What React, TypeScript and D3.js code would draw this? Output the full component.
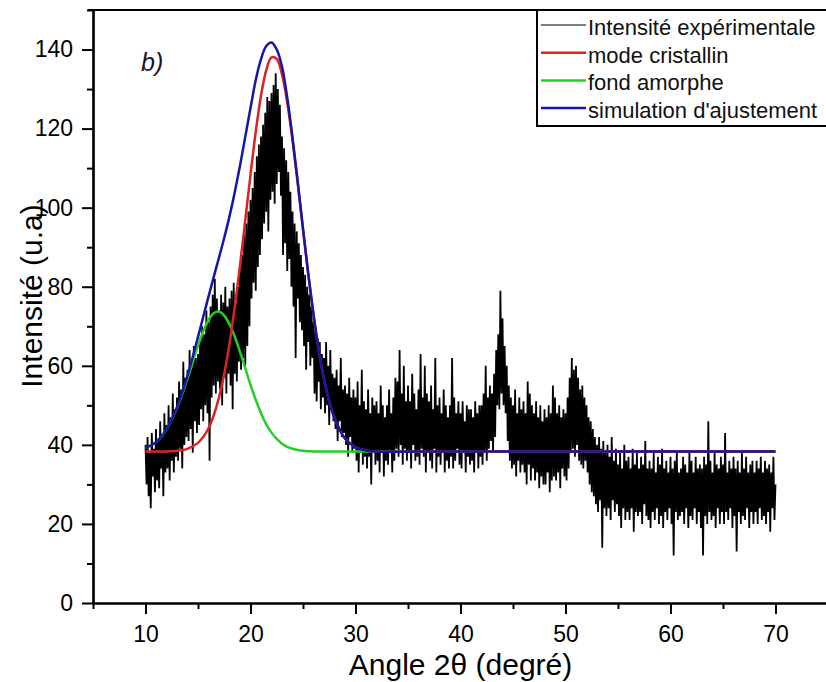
import React, { useEffect, useRef } from 'react';
import * as d3 from 'd3';

// experimental scan, one reading every 0.1 deg from 10 to 70 deg (10 values per row = 1 deg)
const expStart = 10;
const expStep = 0.1;
const expIntensity = [
  40, 30, 42, 27, 38, 24, 43, 32, 39, 28,
  44, 31, 41, 29, 46, 34, 42, 27, 48, 33,
  45, 34, 50, 31, 47, 36, 53, 33, 49, 37,
  52, 36, 56, 39, 54, 34, 61, 40, 57, 42,
  59, 41, 64, 44, 60, 38, 65, 46, 62, 43,
  63, 45, 67, 49, 70, 46, 68, 50, 74, 48,
  71, 36, 75, 52, 78, 55, 82, 53, 77, 56,
  74, 54, 78, 50, 76, 57, 80, 53, 75, 58,
  77, 55, 79, 49, 81, 58, 76, 56, 80, 61,
  85, 59, 88, 62, 93, 60, 96, 65, 99, 70,
  102, 77, 105, 81, 109, 79, 113, 85, 116, 88,
  118, 92, 121, 96, 124, 99, 128, 94, 127, 102,
  129, 104, 131, 101, 134, 106, 130, 109, 126, 103,
  118, 88, 115, 91, 112, 84, 109, 87, 104, 80,
  99, 75, 96, 62, 94, 77, 91, 71, 88, 69,
  85, 65, 83, 59, 80, 66, 78, 60, 75, 62,
  71, 53, 69, 51, 67, 56, 66, 49, 63, 52,
  62, 48, 66, 50, 60, 45, 64, 49, 58, 46,
  57, 44, 59, 41, 55, 46, 62, 42, 54, 43,
  55, 40, 53, 37, 57, 42, 52, 38, 54, 39,
  52, 36, 56, 33, 50, 38, 59, 35, 51, 37,
  49, 34, 54, 37, 48, 30, 52, 38, 50, 35,
  51, 36, 48, 33, 55, 38, 50, 32, 47, 36,
  50, 35, 54, 38, 48, 33, 52, 36, 57, 39,
  56, 37, 64, 40, 53, 35, 60, 39, 51, 36,
  55, 38, 51, 34, 58, 40, 53, 36, 49, 37,
  54, 35, 63, 39, 52, 37, 60, 33, 53, 38,
  51, 36, 55, 34, 49, 39, 62, 33, 50, 37,
  52, 35, 48, 38, 54, 33, 50, 36, 47, 34,
  50, 37, 62, 34, 52, 36, 48, 39, 51, 35,
  48, 34, 51, 38, 46, 33, 50, 37, 49, 35,
  49, 36, 47, 33, 51, 38, 48, 34, 50, 37,
  50, 35, 53, 38, 60, 36, 52, 39, 55, 41,
  53, 38, 58, 42, 64, 50, 68, 49, 79, 53,
  72, 50, 65, 48, 60, 41, 55, 36, 52, 34,
  50, 35, 54, 32, 48, 36, 52, 33, 49, 35,
  51, 33, 48, 30, 56, 35, 53, 31, 50, 34,
  48, 31, 51, 33, 47, 29, 50, 32, 46, 30,
  49, 30, 47, 33, 50, 28, 48, 31, 55, 32,
  52, 31, 48, 33, 50, 29, 47, 34, 49, 32,
  48, 31, 52, 34, 57, 38, 62, 39, 59, 37,
  60, 40, 57, 36, 54, 35, 55, 34, 52, 36,
  50, 33, 47, 30, 46, 28, 44, 27, 42, 25,
  40, 23, 42, 26, 39, 14, 41, 24, 38, 22,
  40, 24, 37, 21, 42, 26, 36, 23, 39, 25,
  35, 22, 38, 19, 34, 24, 40, 21, 36, 23,
  37, 21, 34, 24, 39, 18, 35, 23, 38, 22,
  34, 23, 37, 20, 35, 25, 41, 22, 34, 21,
  36, 19, 34, 23, 38, 21, 33, 24, 37, 20,
  35, 22, 39, 19, 34, 23, 36, 21, 33, 24,
  37, 20, 34, 12, 36, 23, 38, 21, 33, 22,
  34, 23, 37, 20, 35, 24, 33, 19, 38, 22,
  36, 21, 33, 24, 37, 20, 34, 23, 35, 19,
  34, 12, 37, 22, 35, 20, 46, 23, 36, 21,
  33, 22, 38, 19, 35, 24, 34, 20, 37, 23,
  35, 20, 43, 23, 33, 21, 36, 24, 34, 19,
  37, 22, 34, 13, 36, 23, 33, 20, 38, 22,
  34, 21, 37, 24, 33, 19, 35, 23, 36, 20,
  33, 23, 36, 20, 34, 24, 37, 21, 33, 22,
  36, 20, 34, 23, 35, 18, 33, 24, 37, 21,
  30,
];

const fitAngles = [10, 11, 12, 13, 14, 15, 15.5, 16, 16.5, 17, 17.5, 18, 18.5, 19, 19.5, 20, 20.5, 21, 21.5, 22,
  22.5, 23, 23.5, 24, 24.5, 25, 25.5, 26, 26.5, 27, 27.5, 28, 29, 30, 31, 32, 35, 40, 50, 60, 70];
const amorphousFit = [39.2, 40.7, 43.9, 49.3, 56.8, 65.1, 68.7, 71.6, 73.3, 73.7, 72.7, 70.5, 67.4, 63.5, 59.4, 55.2,
  51.4, 48.0, 45.2, 43.1, 41.5, 40.3, 39.5, 39.0, 38.7, 38.5, 38.4, 38.35, 38.3, 38.3, 38.3, 38.3, 38.3, 38.3, 38.3,
  38.3, 38.3, 38.3, 38.3, 38.3, 38.3];
const crystallineFit = [38.3, 38.3, 38.3, 38.5, 39.0, 40.5, 42.0, 44.2, 47.5, 52.0, 58.0, 65.6, 74.8, 85.4, 96.8, 108.3,
  119.2, 128.3, 134.8, 138.0, 137.6, 133.7, 126.6, 117.1, 106.1, 94.5, 83.2, 72.9, 64.0, 56.7, 51.0, 46.8, 41.6, 39.4,
  38.6, 38.3, 38.3, 38.3, 38.3, 38.3, 38.3];
const simulationFit = [39.2, 40.7, 43.9, 49.5, 57.5, 67.3, 72.4, 77.5, 82.5, 87.4, 92.4, 97.8, 103.9, 110.6, 117.9, 125.2,
  132.3, 137.6, 140.9, 141.8, 140.0, 135.7, 127.8, 117.8, 106.5, 94.7, 83.3, 73.0, 64.0, 56.7, 51.0, 46.8, 41.6, 39.4,
  38.6, 38.3, 38.3, 38.3, 38.3, 38.3, 38.3];

const xMajor = [10, 20, 30, 40, 50, 60, 70];
const xMinor = [5, 15, 25, 35, 45, 55, 65, 75];
const yMajor = [0, 20, 40, 60, 80, 100, 120, 140];
const yMinor = [10, 30, 50, 70, 90, 110, 130, 150];

const legendLabels = ['Intensité expérimentale', 'mode cristallin', 'fond amorphe', "simulation d'ajustement"];

const BLACK = '#000000';
const RED = '#dd2222';
const GREEN = '#22d022';
const BLUE = '#1616a6';
const FONT = '"Liberation Sans", Arial, Helvetica, sans-serif';

const App = () => {
  const ref = useRef<SVGSVGElement>(null);

  useEffect(() => {
    const svg = d3.select(ref.current);
    svg.selectAll('*').remove();

    const x = d3.scaleLinear().domain([5, 75]).range([93, 828]);
    const y = d3.scaleLinear().domain([0, 150]).range([603, 10]);

    // experimental trace
    const expLine = d3.line<number>()
      .x((d, i) => x(expStart + i * expStep))
      .y(d => y(d));
    svg.append('path')
      .datum(expIntensity)
      .attr('fill', 'none')
      .attr('stroke', BLACK)
      .attr('stroke-width', 1.8)
      .attr('stroke-linejoin', 'bevel')
      .attr('d', expLine);

    // fits
    const fitLine = d3.line<number>()
      .x((d, i) => x(fitAngles[i]))
      .y(d => y(d))
      .curve(d3.curveCatmullRom.alpha(0.5));
    const fits: [number[], string][] = [[amorphousFit, GREEN], [crystallineFit, RED], [simulationFit, BLUE]];
    fits.forEach(([vals, col]) => {
      svg.append('path')
        .datum(vals)
        .attr('fill', 'none')
        .attr('stroke', col)
        .attr('stroke-width', 2.5)
        .attr('d', fitLine);
    });

    // axes
    const styleAxis = (g: any) => {
      g.attr('font-size', null).attr('font-family', null);
      g.select('.domain').attr('stroke', BLACK).attr('stroke-width', 2.2);
      g.selectAll('line').attr('stroke', BLACK).attr('stroke-width', 2);
      g.selectAll('text').attr('font-size', 23).attr('font-family', FONT).attr('fill', BLACK);
    };

    const gx = svg.append('g').attr('transform', `translate(0,${y(0)})`)
      .call(d3.axisBottom(x).tickValues(xMajor).tickSize(11).tickSizeOuter(0).tickPadding(12).tickFormat(d3.format('d')));
    styleAxis(gx);
    const gxm = svg.append('g').attr('transform', `translate(0,${y(0)})`)
      .call(d3.axisBottom(x).tickValues(xMinor).tickSize(6).tickSizeOuter(0).tickFormat(() => ''));
    styleAxis(gxm);

    const gy = svg.append('g').attr('transform', `translate(${x(5)},0)`)
      .call(d3.axisLeft(y).tickValues(yMajor).tickSize(11).tickSizeOuter(0).tickPadding(9).tickFormat(d3.format('d')));
    styleAxis(gy);
    const gym = svg.append('g').attr('transform', `translate(${x(5)},0)`)
      .call(d3.axisLeft(y).tickValues(yMinor).tickSize(6).tickSizeOuter(0).tickFormat(() => ''));
    styleAxis(gym);

    // frame top and right
    svg.append('line')
      .attr('x1', x(5) - 5).attr('x2', x(75)).attr('y1', y(150)).attr('y2', y(150))
      .attr('stroke', BLACK).attr('stroke-width', 2.2);
    svg.append('line')
      .attr('x1', x(75)).attr('x2', x(75)).attr('y1', y(150)).attr('y2', y(0))
      .attr('stroke', BLACK).attr('stroke-width', 2.2);

    // axis titles
    svg.append('text')
      .text('Angle 2θ (degré)')
      .attr('x', (x(5) + x(75)) / 2)
      .attr('y', 675)
      .attr('text-anchor', 'middle')
      .attr('font-family', FONT)
      .attr('font-size', 30)
      .attr('fill', BLACK);
    svg.append('text')
      .text('Intensité (u.a)')
      .attr('transform', `translate(42,296) rotate(-90)`)
      .attr('text-anchor', 'middle')
      .attr('font-family', FONT)
      .attr('font-size', 30)
      .attr('fill', BLACK);

    // panel tag
    svg.append('text')
      .text('b)')
      .attr('x', 141)
      .attr('y', 71)
      .attr('font-family', FONT)
      .attr('font-style', 'italic')
      .attr('font-size', 25)
      .attr('fill', '#141428');

    // legend
    const lg = svg.append('g');
    lg.append('rect')
      .attr('x', 537).attr('y', y(150)).attr('width', 300).attr('height', 116)
      .attr('fill', '#fff').attr('stroke', BLACK).attr('stroke-width', 2);
    const legendColors = [BLACK, RED, GREEN, BLUE];
    legendLabels.forEach((lab, i) => {
      const ly = 25 + i * 27.7;
      lg.append('line')
        .attr('x1', 541).attr('x2', 586).attr('y1', ly).attr('y2', ly)
        .attr('stroke', legendColors[i])
        .attr('stroke-width', i === 0 ? 1.2 : 2.5);
      lg.append('text')
        .text(lab)
        .attr('x', 588)
        .attr('y', ly + 10)
        .attr('font-family', FONT)
        .attr('font-size', 22)
        .attr('fill', '#111');
    });
  }, []);

  return (
    <svg
      ref={ref}
      width={826}
      height={682}
      style={{ position: 'absolute', left: 0, top: 0, background: '#fff' }}
    />
  );
};

export default App;
